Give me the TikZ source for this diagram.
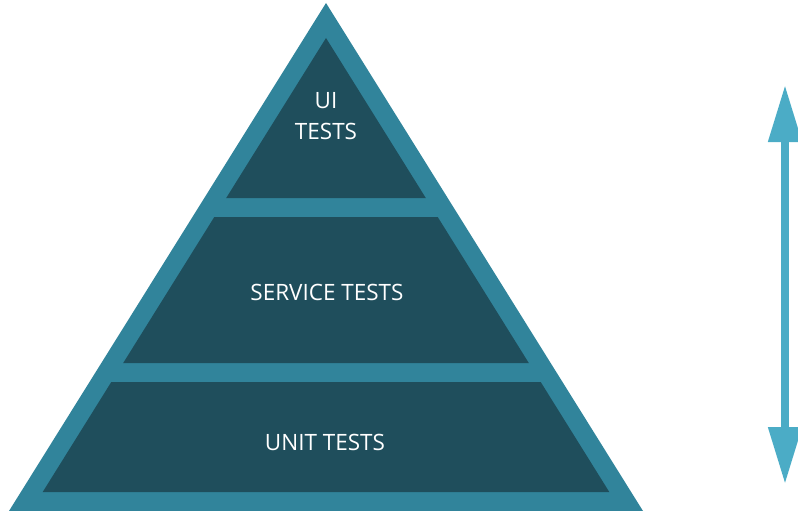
\documentclass[tikz,border=0pt]{standalone}
\usepackage{fontspec}
\setmainfont{Open Sans}
\usetikzlibrary{arrows.meta}
\definecolor{pyrlight}{HTML}{31849B}
\definecolor{pyrdark}{HTML}{1F4E5C}
\definecolor{arrowblue}{HTML}{4BACC6}
\begin{document}
\begin{tikzpicture}[x=1pt,y=-1pt,
    band/.style={fill=pyrdark},
    label/.style={text=white,font=\fontsize{22.5}{31}\selectfont,align=center,inner sep=0pt}]
      \useasboundingbox (0,0) rectangle (798,511);
      % outer triangle
      \fill[pyrlight] (326,3)--(643,511)--(9,511)--cycle;
      % layers
      \fill[band] (326,38)--(425.8,198)--(226.2,198)--cycle;
      \fill[band] (214.3,217)--(437.7,217)--(528.8,363)--(123.2,363)--cycle;
      \fill[band] (111.3,382)--(540.7,382)--(609.3,492)--(42.7,492)--cycle;

      \node at (326,116.5) [label] (ui) {UI\\TESTS};
      \node at (327,292) [label] (service) {SERVICE TESTS};
      \node at (325,442) [label] (unit) {UNIT TESTS};

      % scale arrow
      \coordinate (top) at (785,85);
      \coordinate (bottom) at (785,484);
      \draw[arrowblue, line width=8pt,
            {Triangle[length=57pt,width=32pt]}-{Triangle[length=57pt,width=32pt]}]
      (top) -- (bottom);
    \end{tikzpicture}
\end{document}
